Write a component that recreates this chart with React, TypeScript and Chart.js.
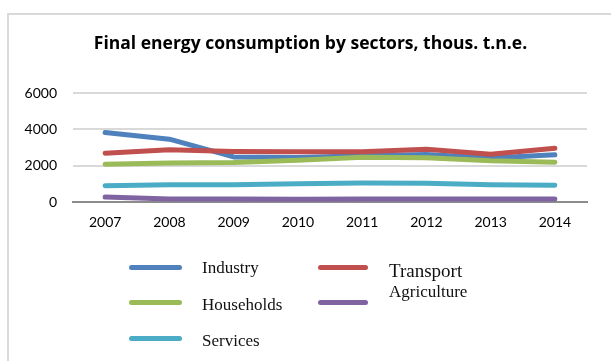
import React, { useEffect, useRef } from "react";
import { Chart, registerables } from "chart.js";

Chart.register(...registerables);

const years = ["2007", "2008", "2009", "2010", "2011", "2012", "2013", "2014"];
const industry = [3830, 3460, 2480, 2450, 2550, 2620, 2420, 2600];
const transport = [2690, 2870, 2780, 2760, 2760, 2900, 2630, 2960];
const households = [2080, 2150, 2180, 2300, 2460, 2430, 2270, 2190];
const agriculture = [270, 170, 160, 150, 160, 160, 160, 170];
const services = [900, 950, 950, 1000, 1050, 1030, 950, 920];
const yTicks = [0, 2000, 4000, 6000];

const titleText = "Final energy consumption by sectors, thous. t.n.e.";

const COLORS = {
  industry: "#4F81BD",
  transport: "#C0504D",
  households: "#9BBB59",
  agriculture: "#8064A2",
  services: "#4BACC6",
};

export default function App() {
  const ref = useRef<HTMLCanvasElement | null>(null);

  useEffect(() => {
    if (!ref.current) return;
    const mk = (label: string, data: number[], color: string, order: number) => ({
      label,
      data,
      borderColor: color,
      backgroundColor: color,
      borderWidth: 5,
      pointRadius: 0,
      tension: 0,
      borderCapStyle: "round" as const,
      borderJoinStyle: "round" as const,
      order,
    });
    const chart = new Chart(ref.current, {
      type: "line",
      data: {
        labels: years,
        datasets: [
          mk("Industry", industry, COLORS.industry, 5),
          mk("Transport", transport, COLORS.transport, 4),
          mk("Households", households, COLORS.households, 3),
          mk("Agriculture", agriculture, COLORS.agriculture, 2),
          mk("Services", services, COLORS.services, 1),
        ],
      },
      options: {
        animation: false,
        responsive: false,
        maintainAspectRatio: false,
        layout: { padding: { left: 0, top: 93, right: 24, bottom: 119 } },
        plugins: { legend: { display: false }, title: { display: false }, tooltip: { enabled: false } },
        scales: {
          x: {
            offset: true,
            grid: { display: false, drawTicks: false },
            border: { display: true, color: "#8C8C8C", width: 2 },
            ticks: { color: "#000", padding: 12, font: { family: "Lato", size: 14 } },
            afterFit: (s: any) => { s.height = 40; },
          },
          y: {
            min: 0,
            max: 6000,
            afterBuildTicks: (s: any) => { s.ticks = yTicks.map((v) => ({ value: v })); },
            grid: { color: "#D9D9D9", lineWidth: 2, drawTicks: false },
            border: { display: false },
            ticks: {
              color: "#000",
              padding: 16,
              font: { family: "Lato", size: 14 },
              callback: (v: any) => String(v),
            },
            afterFit: (s: any) => { s.width = 73; },
          },
        },
      },
    });
    return () => chart.destroy();
  }, []);

  const line = (x1: number, x2: number, y: number, color: string) => (
    <div
      style={{
        position: "absolute",
        left: x1,
        top: y - 2.5,
        width: x2 - x1,
        height: 5,
        borderRadius: 2.5,
        background: color,
      }}
    />
  );
  const text = (s: string, left: number, top: number, size: number) => (
    <div
      style={{
        position: "absolute",
        left,
        top,
        fontFamily: "'Liberation Serif', serif",
        fontSize: size,
        lineHeight: 1,
        color: "#111",
        whiteSpace: "nowrap",
      }}
    >
      {s}
    </div>
  );

  return (
    <div style={{ position: "fixed", left: 0, top: 0, width: 611, height: 361, overflow: "hidden", background: "#fff" }}>
      <div style={{ position: "absolute", left: 7, top: 13, width: 700, height: 600, border: "2px solid #D9D9D9" }} />
      <canvas ref={ref} width={611} height={361} style={{ position: "absolute", left: 0, top: 0, width: 611, height: 361 }} />
      <div
        style={{
          position: "absolute",
          left: 0,
          width: 621,
          top: 34,
          textAlign: "center",
          fontFamily: "'Open Sans', sans-serif",
          fontWeight: 700,
          fontSize: 17.5,
          lineHeight: 1,
          color: "#000",
          whiteSpace: "nowrap",
        }}
      >
        {titleText}
      </div>
      {line(129, 182, 267, COLORS.industry)}
      {line(129, 182, 302, COLORS.households)}
      {line(129, 182, 338, COLORS.services)}
      {line(318, 368, 267, COLORS.transport)}
      {line(318, 368, 302, COLORS.agriculture)}
      {text("Industry", 202, 259, 17)}
      {text("Households", 202, 296, 17)}
      {text("Services", 202, 331.5, 17)}
      {text("Transport", 389, 261, 19)}
      {text("Agriculture", 389, 283, 17)}
    </div>
  );
}
